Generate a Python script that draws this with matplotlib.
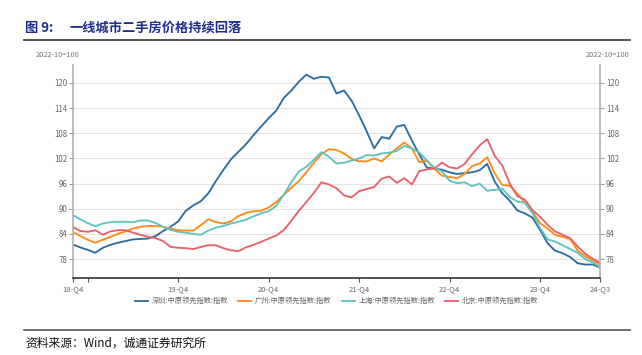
import matplotlib.pyplot as plt
import numpy as np

plt.rcParams['font.family'] = ['Noto Sans CJK SC', 'DejaVu Sans']

# monthly index values, 2022-10 = 100
shenzhen = [81.5, 80.8, 80.2, 79.5, 80.7, 81.4, 81.9, 82.3, 82.7, 82.8,
            82.9, 83.5, 84.7, 85.7, 87.0, 89.5, 90.8, 91.8, 93.7, 96.6,
            99.3, 101.8, 103.6, 105.4, 107.6, 109.6, 111.6, 113.4, 116.4, 118.2,
            120.3, 122.0, 121.0, 121.5, 121.3, 117.5, 118.2, 115.8, 112.3, 108.5,
            104.4, 107.1, 106.7, 109.6, 110.0, 106.3, 102.9, 99.8, 99.6, 99.3,
            98.7, 98.3, 98.5, 98.7, 99.2, 100.7, 96.5, 93.7, 91.9, 89.6,
            88.9, 87.9, 85.0, 81.8, 80.0, 79.4, 78.5, 77.0, 76.7, 76.7, 76.0]
guangzhou = [84.5, 83.5, 82.6, 81.9, 82.6, 83.3, 84.0, 84.6, 85.3, 85.7,
             85.9, 85.9, 85.7, 85.3, 84.9, 84.8, 84.8, 86.1, 87.5, 86.8,
             86.5, 87.0, 88.3, 89.0, 89.4, 89.5, 90.3, 91.6, 93.3, 95.0,
             96.6, 98.7, 101.0, 103.0, 104.2, 104.0, 103.2, 101.9, 101.3, 101.3,
             102.0, 101.3, 102.9, 104.4, 105.8, 104.4, 101.1, 101.5, 99.5, 97.9,
             97.6, 97.3, 98.3, 100.2, 100.8, 102.3, 98.4, 95.7, 95.5, 93.6,
             91.4, 89.3, 86.6, 85.3, 83.8, 83.3, 82.8, 80.0, 78.7, 77.7, 76.7]
shanghai = [88.5, 87.5, 86.6, 85.8, 86.5, 86.8, 86.9, 86.9, 86.8, 87.2,
            87.2, 86.6, 85.7, 85.0, 84.5, 84.3, 84.0, 83.8, 84.8, 85.5,
            85.9, 86.5, 86.9, 87.4, 88.2, 88.9, 89.4, 90.7, 93.3, 96.3,
            98.9, 100.0, 101.7, 103.5, 102.4, 100.8, 101.0, 101.5, 102.0, 102.8,
            102.7, 103.2, 103.4, 103.8, 105.0, 104.4, 103.4, 101.5, 99.8, 98.9,
            96.7, 96.1, 96.3, 95.4, 96.0, 94.3, 94.5, 94.8, 92.8, 91.7,
            91.4, 89.0, 85.5, 82.7, 82.2, 81.3, 80.4, 79.5, 78.0, 77.2, 76.1]
beijing = [85.7, 84.7, 84.5, 84.9, 83.8, 84.6, 84.9, 84.9, 84.3, 83.8,
           83.3, 83.0, 82.3, 80.9, 80.7, 80.6, 80.4, 80.9, 81.3, 81.3,
           80.6, 80.1, 79.9, 80.8, 81.4, 82.1, 82.9, 83.6, 84.9, 87.1,
           89.5, 91.6, 93.8, 96.3, 95.8, 94.9, 93.2, 92.7, 94.2, 94.7,
           95.2, 97.2, 97.7, 96.2, 97.3, 95.8, 99.0, 99.4, 99.6, 101.0,
           99.9, 99.6, 100.7, 103.0, 105.1, 106.6, 102.6, 100.3, 96.0, 93.0,
           92.2, 89.7, 88.1, 86.2, 84.6, 83.8, 83.0, 81.0, 79.3, 78.1, 77.1]

series_names = ['深圳:中原领先指数:指数', '广州:中原领先指数:指数',
                '上海:中原领先指数:指数', '北京:中原领先指数:指数']
colors = ['#2e6e9e', '#ff8c1a', '#5fc4c0', '#e8626c']

tick_pos = [0, 2, 14, 26, 38, 50, 62, 70]
tick_labels = ['18-Q4', '', '19-Q4', '20-Q4', '21-Q4', '22-Q4', '23-Q4', '24-Q3']
y_ticks = [78, 84, 90, 96, 102, 108, 114, 120]

fig = plt.figure(figsize=(6.42, 3.55), dpi=100)
ax = fig.add_axes([0.1132, 0.217, 0.8218, 0.6])

x = np.arange(len(shenzhen))
for vals, name, c in zip([shenzhen, guangzhou, shanghai, beijing], series_names, colors):
    ax.plot(x, vals, color=c, lw=1.35, label=name, solid_joinstyle='round')

ax.set_xlim(0, 70)
ax.set_ylim(73.5, 124.3)
ax.set_yticks(y_ticks)
ax.set_yticklabels([str(v) for v in y_ticks])
ax.yaxis.grid(True, color='#e3e3e3', lw=0.8)
ax.set_axisbelow(True)
ax.set_xticks(tick_pos)
ax.set_xticklabels(tick_labels)
ax.tick_params(axis='x', colors='#555555', labelsize=5.5, length=3, width=0.8, pad=2)
ax.tick_params(axis='x', labelcolor='#666666')
ax.tick_params(axis='y', colors='#888888', labelsize=5.7, length=3, width=0.6, pad=1,
               labelcolor='#666666', right=True, labelright=True)
ax.spines['top'].set_visible(False)
for side in ['left', 'right']:
    ax.spines[side].set_color('#b0b0b0')
    ax.spines[side].set_linewidth(1.2)
ax.spines['bottom'].set_color('#333333')
ax.spines['bottom'].set_linewidth(1.2)

ax.legend(loc='upper center', bbox_to_anchor=(0.5, -0.06), ncol=4, frameon=False,
          fontsize=5.2, labelcolor='#666666', handlelength=1.8, handletextpad=0.5,
          columnspacing=1.4)

# header / footer
fig.text(0.039, 0.922, '图 9:', fontsize=9.5, fontweight='bold', color='#1f2d8c',
         va='center')
fig.text(0.109, 0.922, '一线城市二手房价格持续回落', fontsize=9.5,
         fontweight='bold', color='#1f2d8c', va='center')
fig.add_artist(plt.Line2D([0.037, 0.982], [0.887, 0.887], color='#444444', lw=1.3))
fig.text(0.09, 0.845, '2022-10=100', fontsize=5.3, color='#777777', ha='center', va='center')
fig.text(0.947, 0.845, '2022-10=100', fontsize=5.3, color='#777777', ha='center', va='center')
fig.add_artist(plt.Line2D([0.037, 0.982], [0.07, 0.07], color='#555555', lw=1.2))
fig.text(0.039, 0.033, '资料来源：Wind，诚通证券研究所', fontsize=8.5, color='#111111',
         va='center')

fig.savefig('out.png', dpi=100)
